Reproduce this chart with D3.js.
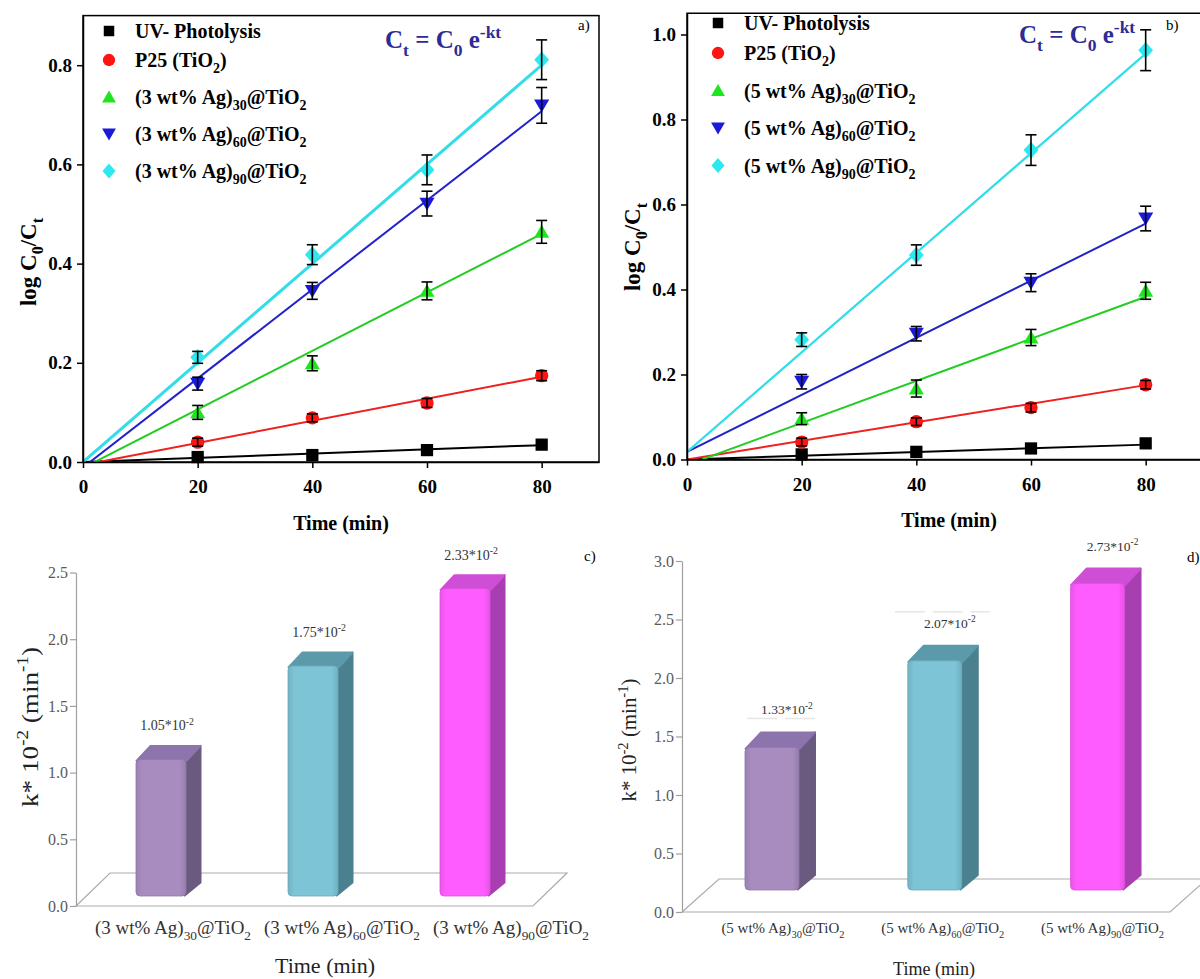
<!DOCTYPE html>
<html lang="en">
<head>
<meta charset="UTF-8">
<title>Photocatalytic kinetics</title>
<script src="https://cdn.jsdelivr.net/npm/d3@7"></script>
<style>
  body { margin: 0; background: #fff; }
  svg { display: block; font-family: "Liberation Serif", "Times New Roman", serif; }
  .axis path, .axis line { stroke: #000; stroke-width: 1.5; fill: none; }
  .axis text { font-family: "Liberation Serif", serif; font-size: 19px; font-weight: bold; fill: #000; }
  .baraxis path, .baraxis line { stroke: #a0a0a0; stroke-width: 1.2; fill: none; }
  .baraxis text { font-family: "Liberation Serif", serif; font-size: 16px; fill: #5a5a5a; }
</style>
</head>
<body>
<div id="output"></div>
<script>

// ---------- data: panels a) and b) ----------
var times = [20, 40, 60, 80];
var xTicks = [0, 20, 40, 60, 80];

var namesA = ["UV- Photolysis", "P25 (TiO_{2})", "(3 wt% Ag)_{30}@TiO_{2}", "(3 wt% Ag)_{60}@TiO_{2}", "(3 wt% Ag)_{90}@TiO_{2}"];
var uvA   = [0.010, 0.014, 0.024, 0.035];
var p25A  = [0.040, 0.089, 0.119, 0.174];
var ag30A = [0.100, 0.199, 0.345, 0.464];
var ag60A = [0.158, 0.345, 0.521, 0.719];
var ag90A = [0.211, 0.418, 0.589, 0.811];
var errUvA   = [0.004, 0.004, 0.005, 0.005];
var errP25A  = [0.008, 0.008, 0.009, 0.010];
var errAg30A = [0.014, 0.015, 0.018, 0.023];
var errAg60A = [0.013, 0.017, 0.025, 0.036];
var errAg90A = [0.012, 0.020, 0.030, 0.040];
// linear fits, value at t = 0 and t = 80
var fitStartA = [0.000, -0.006, -0.012, -0.011, 0.000];
var fitEndA   = [0.034, 0.172, 0.460, 0.707, 0.800];
var yTicksA = [0, 0.2, 0.4, 0.6, 0.8];

var namesB = ["UV- Photolysis", "P25 (TiO_{2})", "(5 wt% Ag)_{30}@TiO_{2}", "(5 wt% Ag)_{60}@TiO_{2}", "(5 wt% Ag)_{90}@TiO_{2}"];
var uvB   = [0.012, 0.018, 0.026, 0.038];
var p25B  = [0.041, 0.089, 0.122, 0.176];
var ag30B = [0.096, 0.167, 0.287, 0.397];
var ag60B = [0.183, 0.296, 0.416, 0.567];
var ag90B = [0.282, 0.481, 0.728, 0.963];
var errUvB   = [0.004, 0.004, 0.005, 0.005];
var errP25B  = [0.009, 0.009, 0.010, 0.010];
var errAg30B = [0.014, 0.020, 0.019, 0.020];
var errAg60B = [0.017, 0.017, 0.021, 0.029];
var errAg90B = [0.016, 0.024, 0.036, 0.048];
var fitStartB = [0.000, 0.000, -0.013, 0.018, 0.018];
var fitEndB   = [0.035, 0.175, 0.383, 0.555, 0.955];
var yTicksB = [0, 0.2, 0.4, 0.6, 0.8, 1.0];

// ---------- data: panels c) and d) ----------
var catsC = ["(3 wt% Ag)_{30}@TiO_{2}", "(3 wt% Ag)_{60}@TiO_{2}", "(3 wt% Ag)_{90}@TiO_{2}"];
var kC = [1.05, 1.75, 2.33];
var yTicksC = [0, 0.5, 1.0, 1.5, 2.0, 2.5];

var catsD = ["(5 wt% Ag)_{30}@TiO_{2}", "(5 wt% Ag)_{60}@TiO_{2}", "(5 wt% Ag)_{90}@TiO_{2}"];
var kD = [1.33, 2.07, 2.73];
var yTicksD = [0, 0.5, 1.0, 1.5, 2.0, 2.5, 3.0];

// ---------- styles ----------
var markerColor = ["#000000", "#ff1414", "#1ee61e", "#1a1ad8", "#2ee8f0"];
var lineColor   = ["#000000", "#ee2020", "#22cc22", "#2222c8", "#30dde8"];
var barFront = ["#a88cc0", "#7cc4d6", "#ff5cff"];
var barSide  = ["#6a5a80", "#4b808e", "#a83fb0"];
var barTop   = ["#8c74ad", "#5a9aab", "#cf4ed6"];

var svg = d3.select("#output").append("svg")
    .attr("width", 1200)
    .attr("height", 979);
var defs = svg.append("defs");

// text with _{sub} and ^{sup} pieces
function richText(sel, str, fs) {
    var parts = str.match(/[_^]\{[^}]*\}|[^_^]+/g);
    var shift = 0;
    parts.forEach(function(p) {
        var t = sel.append("tspan");
        var s = 0;
        if (p[0] === "_" || p[0] === "^") {
            s = p[0] === "_" ? fs * 0.32 : -fs * 0.42;
            t.style("font-size", (fs * 0.7) + "px").text(p.slice(2, -1));
        } else {
            t.text(p);
        }
        t.attr("dy", s - shift);
        shift = s;
    });
    return sel;
}

function polySymbol(pts) {
    return {
        draw: function(ctx, size) {
            var r = Math.sqrt(size) / 2;
            pts.forEach(function(p, i) {
                if (i) ctx.lineTo(p[0] * r, p[1] * r);
                else ctx.moveTo(p[0] * r, p[1] * r);
            });
            ctx.closePath();
        }
    };
}
var symTriUp   = polySymbol([[0, -1], [1.08, 0.85], [-1.08, 0.85]]);
var symTriDown = polySymbol([[0, 1], [1.08, -0.85], [-1.08, -0.85]]);
var symDiamond = polySymbol([[0, -1.15], [1.02, 0], [0, 1.15], [-1.02, 0]]);
var symbolTypes = [d3.symbolSquare, d3.symbolCircle, symTriUp, symTriDown, symDiamond];
var symbolSizes = [150, 140, 196, 196, 210];
var legendSizes = [110, 120, 165, 165, 165];

/*
* kinetics panel (log C0/Ct vs time)
* */
function drawKinetics(c) {
    var x = d3.scaleLinear().domain([0, 90]).range([c.left, c.left + c.xSpan]);
    var y = d3.scaleLinear().domain([0, c.yMax]).range([c.bottom, c.top]);
    var g = svg.append("g");

    g.append("rect")
        .attr("x", x(0)).attr("y", y(c.yMax))
        .attr("width", x(90) - x(0)).attr("height", y(0) - y(c.yMax))
        .attr("fill", "none").attr("stroke", "#000").attr("stroke-width", 1.5);

    var clipId = "clip" + c.id;
    defs.append("clipPath").attr("id", clipId)
        .append("rect")
        .attr("x", x(0)).attr("y", y(c.yMax))
        .attr("width", x(90) - x(0)).attr("height", y(0) - y(c.yMax));

    // fitted lines
    var line = d3.line().x(function(d) { return x(d[0]); }).y(function(d) { return y(d[1]); });
    g.append("g").attr("clip-path", "url(#" + clipId + ")")
        .selectAll("path")
        .data(c.fitStart)
        .enter().append("path")
        .attr("d", function(d, i) { return line([[0, d], [80, c.fitEnd[i]]]); })
        .attr("stroke", function(d, i) { return lineColor[i]; })
        .attr("stroke-width", function(d, i) { return i === 4 ? c.cyanWidth : 2; })
        .attr("fill", "none");

    // markers
    c.series.forEach(function(vals, i) {
        var sym = d3.symbol().type(symbolTypes[i]).size(symbolSizes[i]);
        g.append("g").selectAll("path")
            .data(vals)
            .enter().append("path")
            .attr("d", sym)
            .attr("transform", function(d, j) { return "translate(" + x(times[j]) + "," + y(d) + ")"; })
            .attr("fill", markerColor[i]);
    });

    // error bars on top
    c.series.forEach(function(vals, i) {
        var eg = g.append("g").attr("stroke", "#000").attr("stroke-width", 1.6);
        vals.forEach(function(v, j) {
            var e = c.errs[i][j], px = x(times[j]), cw = 5.5;
            eg.append("line").attr("x1", px).attr("x2", px).attr("y1", y(v - e)).attr("y2", y(v + e));
            eg.append("line").attr("x1", px - cw).attr("x2", px + cw).attr("y1", y(v - e)).attr("y2", y(v - e));
            eg.append("line").attr("x1", px - cw).attr("x2", px + cw).attr("y1", y(v + e)).attr("y2", y(v + e));
        });
    });

    // axes
    g.append("g").attr("class", "axis")
        .attr("transform", "translate(" + x(0) + ",0)")
        .call(d3.axisLeft(y).tickValues(c.yTicks).tickFormat(d3.format(".1f"))
            .tickSize(6).tickPadding(5).tickSizeOuter(0));
    g.append("g").attr("class", "axis")
        .attr("transform", "translate(0," + y(0) + ")")
        .call(d3.axisBottom(x).tickValues(xTicks).tickFormat(d3.format("d"))
            .tickSize(6).tickPadding(12).tickSizeOuter(0));

    // axis titles
    g.append("text")
        .attr("x", c.xTitle[0]).attr("y", c.xTitle[1])
        .attr("text-anchor", "middle")
        .style("font-size", "20px").style("font-weight", "bold")
        .text("Time (min)");
    var yt = g.append("text")
        .attr("transform", "translate(" + c.yTitle[0] + "," + c.yTitle[1] + ") rotate(-90)")
        .attr("text-anchor", "middle")
        .style("font-size", "23px").style("font-weight", "bold");
    richText(yt, "log C_{0}/C_{t}", 23);

    // legend
    var ly = c.legendY;
    c.names.forEach(function(name, i) {
        var ry = ly + (i === 0 ? 0 : c.gap1 + (i > 1 ? (i - 1) * c.gap2 : 0));
        g.append("path")
            .attr("d", d3.symbol().type(symbolTypes[i]).size(legendSizes[i]))
            .attr("transform", "translate(" + c.legendX + "," + ry + ")")
            .attr("fill", markerColor[i]);
        var t = g.append("text")
            .attr("x", c.legendX + 26).attr("y", ry + 7)
            .style("font-size", "20px").style("font-weight", "bold");
        richText(t, name, 20);
    });

    // equation and panel letter
    var eq = g.append("text")
        .attr("x", c.eq[0]).attr("y", c.eq[1])
        .attr("fill", "#2c2c96")
        .style("font-size", "25px").style("font-weight", "bold");
    richText(eq, "C_{t} = C_{0} e^{-kt}", 25);
    g.append("text")
        .attr("x", c.letter[0]).attr("y", c.letter[1])
        .style("font-size", "15px")
        .text(c.id + ")");
}

drawKinetics({
    id: "a", left: 83, xSpan: 516, bottom: 462, top: 15.6, yMax: 0.9,
    series: [uvA, p25A, ag30A, ag60A, ag90A],
    errs: [errUvA, errP25A, errAg30A, errAg60A, errAg90A],
    fitStart: fitStartA, fitEnd: fitEndA, yTicks: yTicksA, names: namesA,
    cyanWidth: 3,
    legendX: 109, legendY: 31, gap1: 29, gap2: 37,
    eq: [385, 48], letter: [578, 30],
    xTitle: [341, 530], yTitle: [36, 262]
});

drawKinetics({
    id: "b", left: 687, xSpan: 516, bottom: 459.5, top: 13.25, yMax: 1.05,
    series: [uvB, p25B, ag30B, ag60B, ag90B],
    errs: [errUvB, errP25B, errAg30B, errAg60B, errAg90B],
    fitStart: fitStartB, fitEnd: fitEndB, yTicks: yTicksB, names: namesB,
    cyanWidth: 2.2,
    legendX: 718, legendY: 23, gap1: 30, gap2: 37.5,
    eq: [1019, 43], letter: [1166, 30],
    xTitle: [949, 527], yTitle: [640, 247]
});

/*
* 3D style bar panel (rate constants)
* */
function drawBars(c) {
    var y = d3.scaleLinear().domain([0, c.yMax]).range([c.y0, c.yTopPx]);
    var x = d3.scalePoint().domain(c.cats).range(c.xRange).padding(0.5);
    var g = svg.append("g");

    // floor
    var fy = y(0);
    g.append("path")
        .attr("d", d3.line()([[c.axisX, fy], [c.floorRight, fy],
            [c.floorRight + c.floorDepth[0], fy + c.floorDepth[1]],
            [c.axisX + c.floorDepth[0], fy + c.floorDepth[1]], [c.axisX, fy]]))
        .attr("fill", "none").attr("stroke", "#ababab").attr("stroke-width", 1.2);

    g.append("g").attr("class", "baraxis")
        .attr("transform", "translate(" + c.axisX + ",0)")
        .call(d3.axisLeft(y).tickValues(c.yTicks).tickFormat(d3.format(".1f"))
            .tickSize(6).tickPadding(2).tickSizeOuter(0));

    c.values.forEach(function(v, i) {
        var xc = x(c.cats[i]), w = c.barW;
        var x0 = xc - w / 2, x1 = xc + w / 2;
        var top = y(v) + c.topOff, bot = y(0) + c.botOff;
        var dx = c.depth[0], dy = c.depth[1];

        var gid = "grad" + c.id + i;
        var grad = defs.append("linearGradient").attr("id", gid)
            .attr("x1", "0%").attr("x2", "100%").attr("y1", "0%").attr("y2", "0%");
        grad.append("stop").attr("offset", "0%").attr("stop-color", d3.color(barFront[i]).darker(0.25));
        grad.append("stop").attr("offset", "12%").attr("stop-color", barFront[i]);
        grad.append("stop").attr("offset", "88%").attr("stop-color", barFront[i]);
        grad.append("stop").attr("offset", "100%").attr("stop-color", d3.color(barFront[i]).darker(0.3));

        g.append("path")
            .attr("d", d3.line()([[x1 - 2, top], [x1 + dx, top + dy], [x1 + dx, bot + dy], [x1 - 2, bot]]))
            .attr("fill", barSide[i]).attr("stroke", barSide[i])
            .attr("stroke-width", 2).attr("stroke-linejoin", "round");
        g.append("path")
            .attr("d", d3.line()([[x0, top + 2], [x0 + dx, top + dy], [x1 + dx, top + dy], [x1, top + 2]]))
            .attr("fill", barTop[i]).attr("stroke", barTop[i])
            .attr("stroke-width", 2).attr("stroke-linejoin", "round");
        g.append("rect")
            .attr("x", x0).attr("y", top)
            .attr("width", w).attr("height", bot - top)
            .attr("rx", 4).attr("ry", 4)
            .attr("fill", "url(#" + gid + ")")
            .attr("stroke", d3.color(barFront[i]).darker(0.4)).attr("stroke-width", 0.8);

        var lt = g.append("text")
            .attr("x", xc + c.labelDx).attr("y", top + c.labelDy)
            .attr("text-anchor", "middle")
            .attr("fill", "#333")
            .style("font-size", c.labelSize + "px");
        richText(lt, v.toFixed(2) + "*10^{-2}", c.labelSize);

        var ct = g.append("text")
            .attr("x", xc + c.catDx + i * c.catStep).attr("y", c.catY)
            .attr("text-anchor", "middle")
            .attr("fill", "#333")
            .style("font-size", c.catSize + "px");
        richText(ct, c.cats[i], c.catSize);
    });

    g.append("text")
        .attr("x", c.xTitle[0]).attr("y", c.xTitle[1])
        .attr("text-anchor", "middle").attr("fill", "#222")
        .style("font-size", c.xTitleSize + "px")
        .text("Time (min)");

    var yg = g.append("g")
        .attr("transform", "translate(" + c.yTitle[0] + "," + c.yTitle[1] + ") rotate(-90)");
    var yt = yg.append("text")
        .attr("text-anchor", "middle").attr("fill", "#222")
        .style("font-size", c.yTitleSize + "px");
    richText(yt, "k* 10^{-2} (min^{-1})", c.yTitleSize);
    var len = yt.node().getComputedTextLength();
    yt.attr("transform", "scale(" + (c.yTitleLen / len) + ",1)");

    g.append("text")
        .attr("x", c.letter[0]).attr("y", c.letter[1])
        .style("font-size", "15px")
        .text(c.id + ")");
    return { x: x, y: y, g: g };
}

drawBars({
    id: "c", cats: catsC, values: kC, yMax: 2.5, yTicks: yTicksC,
    y0: 906, yTopPx: 572.5, axisX: 76, xRange: [85, 541],
    floorRight: 533, floorDepth: [34, -33],
    barW: 50, depth: [14.5, -13.5], topOff: -6.5, botOff: -10,
    labelDx: 6, labelDy: -29, labelSize: 14,
    catDx: 12, catStep: 17, catY: 934, catSize: 19,
    xTitle: [325, 973], xTitleSize: 22,
    yTitle: [38, 727], yTitleSize: 24, yTitleLen: 160,
    letter: [584, 561]
});

var panelD = drawBars({
    id: "d", cats: catsD, values: kD, yMax: 3.0, yTicks: yTicksD,
    y0: 912, yTopPx: 561, axisX: 682, xRange: [690.6, 1178.9],
    floorRight: 1170, floorDepth: [37, -33],
    barW: 54, depth: [16, -15], topOff: -9, botOff: -22,
    labelDx: 15, labelDy: -33, labelSize: 13.5,
    catDx: 11, catStep: -3, catY: 933, catSize: 15,
    xTitle: [934, 975], xTitleSize: 18,
    yTitle: [636, 740], yTitleSize: 20, yTitleLen: 123,
    letter: [1187, 562]
});

// faint leftover rules near the d) labels
panelD.g.append("line")
    .attr("x1", panelD.x(catsD[0]) - 25).attr("x2", panelD.x(catsD[0]) + 48)
    .attr("y1", panelD.y(kD[0]) - 38).attr("y2", panelD.y(kD[0]) - 38)
    .attr("stroke", "#e6e6e6").attr("stroke-width", 1.5).attr("stroke-dasharray", "30,8");
panelD.g.append("line")
    .attr("x1", panelD.x(catsD[1]) - 40).attr("x2", panelD.x(catsD[1]) + 55)
    .attr("y1", panelD.y(kD[1]) - 58).attr("y2", panelD.y(kD[1]) - 58)
    .attr("stroke", "#e6e6e6").attr("stroke-width", 1.5).attr("stroke-dasharray", "30,8");

</script>
</body>
</html>
